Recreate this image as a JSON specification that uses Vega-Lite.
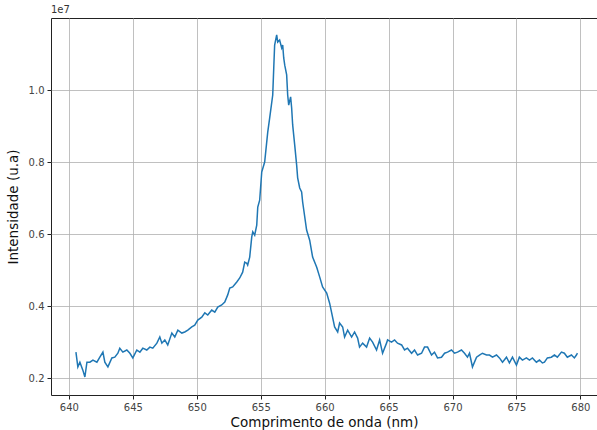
{
  "$schema": "https://vega.github.io/schema/vega-lite/v6.json",
  "width": 546,
  "height": 377,
  "autosize": "none",
  "padding": {"left": 51, "top": 18, "right": 0, "bottom": 35},
  "background": "white",
  "title": {"text": "1e7", "anchor": "start", "frame": "group", "fontSize": 10, "fontWeight": "normal", "font": "DejaVu Sans", "color": "#333333", "offset": 3},
  "config": {
    "view": {"stroke": "#222222", "strokeWidth": 1},
    "axis": {"labelFont": "DejaVu Sans", "titleFont": "DejaVu Sans", "labelColor": "#444444", "titleColor": "#111111", "labelFontSize": 10, "titleFontSize": 13.5, "titleFontWeight": "normal", "gridColor": "#b0b0b0", "gridWidth": 0.8, "gridOpacity": 1, "tickColor": "#222222", "tickSize": 4, "domain": false}
  },
  "data": {"values": [
    {"wl": 640.55, "I": 2720000}, {"wl": 640.70, "I": 2310000}, {"wl": 640.86, "I": 2440000}, {"wl": 641.09, "I": 2220000},
    {"wl": 641.25, "I": 2030000}, {"wl": 641.41, "I": 2440000}, {"wl": 641.64, "I": 2440000}, {"wl": 641.88, "I": 2500000},
    {"wl": 642.19, "I": 2440000}, {"wl": 642.42, "I": 2580000}, {"wl": 642.66, "I": 2720000}, {"wl": 642.81, "I": 2440000},
    {"wl": 643.05, "I": 2310000}, {"wl": 643.36, "I": 2560000}, {"wl": 643.59, "I": 2580000}, {"wl": 643.83, "I": 2690000},
    {"wl": 643.98, "I": 2830000}, {"wl": 644.22, "I": 2720000}, {"wl": 644.53, "I": 2780000}, {"wl": 644.77, "I": 2690000},
    {"wl": 645.00, "I": 2560000}, {"wl": 645.31, "I": 2780000}, {"wl": 645.55, "I": 2720000}, {"wl": 645.78, "I": 2830000},
    {"wl": 646.09, "I": 2780000}, {"wl": 646.33, "I": 2860000}, {"wl": 646.56, "I": 2830000}, {"wl": 646.88, "I": 2970000},
    {"wl": 647.11, "I": 3140000}, {"wl": 647.27, "I": 2970000}, {"wl": 647.50, "I": 3060000}, {"wl": 647.73, "I": 2920000},
    {"wl": 648.05, "I": 3250000}, {"wl": 648.28, "I": 3140000}, {"wl": 648.52, "I": 3330000}, {"wl": 648.83, "I": 3250000},
    {"wl": 649.06, "I": 3280000}, {"wl": 649.30, "I": 3330000}, {"wl": 649.61, "I": 3420000}, {"wl": 649.84, "I": 3470000},
    {"wl": 650.08, "I": 3610000}, {"wl": 650.39, "I": 3690000}, {"wl": 650.63, "I": 3810000}, {"wl": 650.86, "I": 3750000},
    {"wl": 651.17, "I": 3890000}, {"wl": 651.41, "I": 3830000}, {"wl": 651.64, "I": 3970000}, {"wl": 651.95, "I": 4030000},
    {"wl": 652.19, "I": 4110000}, {"wl": 652.42, "I": 4310000}, {"wl": 652.58, "I": 4500000}, {"wl": 652.81, "I": 4530000},
    {"wl": 653.13, "I": 4670000}, {"wl": 653.36, "I": 4780000}, {"wl": 653.59, "I": 4940000}, {"wl": 653.75, "I": 5220000},
    {"wl": 653.91, "I": 5190000}, {"wl": 653.98, "I": 5140000}, {"wl": 654.14, "I": 5360000}, {"wl": 654.30, "I": 5920000},
    {"wl": 654.38, "I": 6060000}, {"wl": 654.53, "I": 5970000}, {"wl": 654.69, "I": 6250000}, {"wl": 654.77, "I": 6750000},
    {"wl": 654.92, "I": 6940000}, {"wl": 655.08, "I": 7720000}, {"wl": 655.31, "I": 8000000}, {"wl": 655.55, "I": 8830000},
    {"wl": 655.70, "I": 9220000}, {"wl": 655.94, "I": 9860000}, {"wl": 656.02, "I": 10610000}, {"wl": 656.09, "I": 11250000},
    {"wl": 656.25, "I": 11530000}, {"wl": 656.33, "I": 11330000}, {"wl": 656.48, "I": 11390000}, {"wl": 656.64, "I": 11170000},
    {"wl": 656.72, "I": 11250000}, {"wl": 656.80, "I": 10890000}, {"wl": 656.88, "I": 10690000}, {"wl": 657.03, "I": 10420000},
    {"wl": 657.11, "I": 9860000}, {"wl": 657.19, "I": 9580000}, {"wl": 657.34, "I": 9810000}, {"wl": 657.42, "I": 9500000},
    {"wl": 657.50, "I": 9030000}, {"wl": 657.66, "I": 8470000}, {"wl": 657.81, "I": 7920000}, {"wl": 657.89, "I": 7560000},
    {"wl": 658.05, "I": 7280000}, {"wl": 658.20, "I": 7170000}, {"wl": 658.28, "I": 6890000}, {"wl": 658.59, "I": 6110000},
    {"wl": 658.83, "I": 5830000}, {"wl": 659.06, "I": 5360000}, {"wl": 659.38, "I": 5080000}, {"wl": 659.61, "I": 4810000},
    {"wl": 659.84, "I": 4530000}, {"wl": 660.16, "I": 4360000}, {"wl": 660.39, "I": 4080000}, {"wl": 660.55, "I": 3810000},
    {"wl": 660.78, "I": 3420000}, {"wl": 661.02, "I": 3280000}, {"wl": 661.17, "I": 3530000}, {"wl": 661.41, "I": 3420000},
    {"wl": 661.56, "I": 3140000}, {"wl": 661.80, "I": 3330000}, {"wl": 662.11, "I": 3140000}, {"wl": 662.34, "I": 3280000},
    {"wl": 662.58, "I": 3110000}, {"wl": 662.73, "I": 2860000}, {"wl": 662.97, "I": 2970000}, {"wl": 663.28, "I": 2860000},
    {"wl": 663.52, "I": 3110000}, {"wl": 663.75, "I": 3000000}, {"wl": 664.06, "I": 2780000}, {"wl": 664.30, "I": 3060000},
    {"wl": 664.53, "I": 2690000}, {"wl": 664.84, "I": 2970000}, {"wl": 664.92, "I": 3060000}, {"wl": 665.23, "I": 3000000},
    {"wl": 665.47, "I": 3060000}, {"wl": 665.70, "I": 2970000}, {"wl": 666.02, "I": 2920000}, {"wl": 666.25, "I": 2780000},
    {"wl": 666.48, "I": 2830000}, {"wl": 666.80, "I": 2690000}, {"wl": 667.03, "I": 2780000}, {"wl": 667.27, "I": 2640000},
    {"wl": 667.58, "I": 2690000}, {"wl": 667.81, "I": 2860000}, {"wl": 668.05, "I": 2860000}, {"wl": 668.36, "I": 2640000},
    {"wl": 668.59, "I": 2720000}, {"wl": 668.83, "I": 2560000}, {"wl": 669.14, "I": 2580000}, {"wl": 669.38, "I": 2690000},
    {"wl": 669.61, "I": 2720000}, {"wl": 669.92, "I": 2780000}, {"wl": 670.16, "I": 2690000}, {"wl": 670.39, "I": 2720000},
    {"wl": 670.70, "I": 2780000}, {"wl": 670.94, "I": 2690000}, {"wl": 671.17, "I": 2580000}, {"wl": 671.33, "I": 2690000},
    {"wl": 671.56, "I": 2310000}, {"wl": 671.88, "I": 2580000}, {"wl": 672.11, "I": 2640000}, {"wl": 672.34, "I": 2690000},
    {"wl": 672.66, "I": 2640000}, {"wl": 672.89, "I": 2640000}, {"wl": 673.13, "I": 2580000}, {"wl": 673.44, "I": 2640000},
    {"wl": 673.67, "I": 2560000}, {"wl": 673.91, "I": 2440000}, {"wl": 674.22, "I": 2580000}, {"wl": 674.45, "I": 2420000},
    {"wl": 674.69, "I": 2580000}, {"wl": 675.00, "I": 2360000}, {"wl": 675.23, "I": 2580000}, {"wl": 675.47, "I": 2500000},
    {"wl": 675.78, "I": 2560000}, {"wl": 676.02, "I": 2500000}, {"wl": 676.25, "I": 2560000}, {"wl": 676.56, "I": 2440000},
    {"wl": 676.80, "I": 2500000}, {"wl": 677.03, "I": 2420000}, {"wl": 677.19, "I": 2440000}, {"wl": 677.42, "I": 2560000},
    {"wl": 677.73, "I": 2580000}, {"wl": 677.97, "I": 2640000}, {"wl": 678.20, "I": 2580000}, {"wl": 678.52, "I": 2720000},
    {"wl": 678.75, "I": 2690000}, {"wl": 678.98, "I": 2580000}, {"wl": 679.30, "I": 2640000}, {"wl": 679.53, "I": 2560000},
    {"wl": 679.69, "I": 2640000}, {"wl": 679.77, "I": 2690000}
  ]},
  "mark": {"type": "line", "color": "#1f77b4", "strokeWidth": 1.5, "interpolate": "linear"},
  "encoding": {
    "x": {"field": "wl", "type": "quantitative", "scale": {"domain": [638.6, 681.3], "nice": false, "zero": false},
      "axis": {"values": [640, 645, 650, 655, 660, 665, 670, 675, 680], "title": "Comprimento de onda (nm)", "labelPadding": 3, "titlePadding": 3, "format": "d"}},
    "y": {"field": "I", "type": "quantitative", "scale": {"domain": [1530000, 12000000], "nice": false, "zero": false},
      "axis": {"values": [2000000, 4000000, 6000000, 8000000, 10000000], "labelExpr": "format(datum.value / 10000000, '.1f')", "title": "Intensidade (u.a)", "labelPadding": 3, "titlePadding": 8}}
  }
}
